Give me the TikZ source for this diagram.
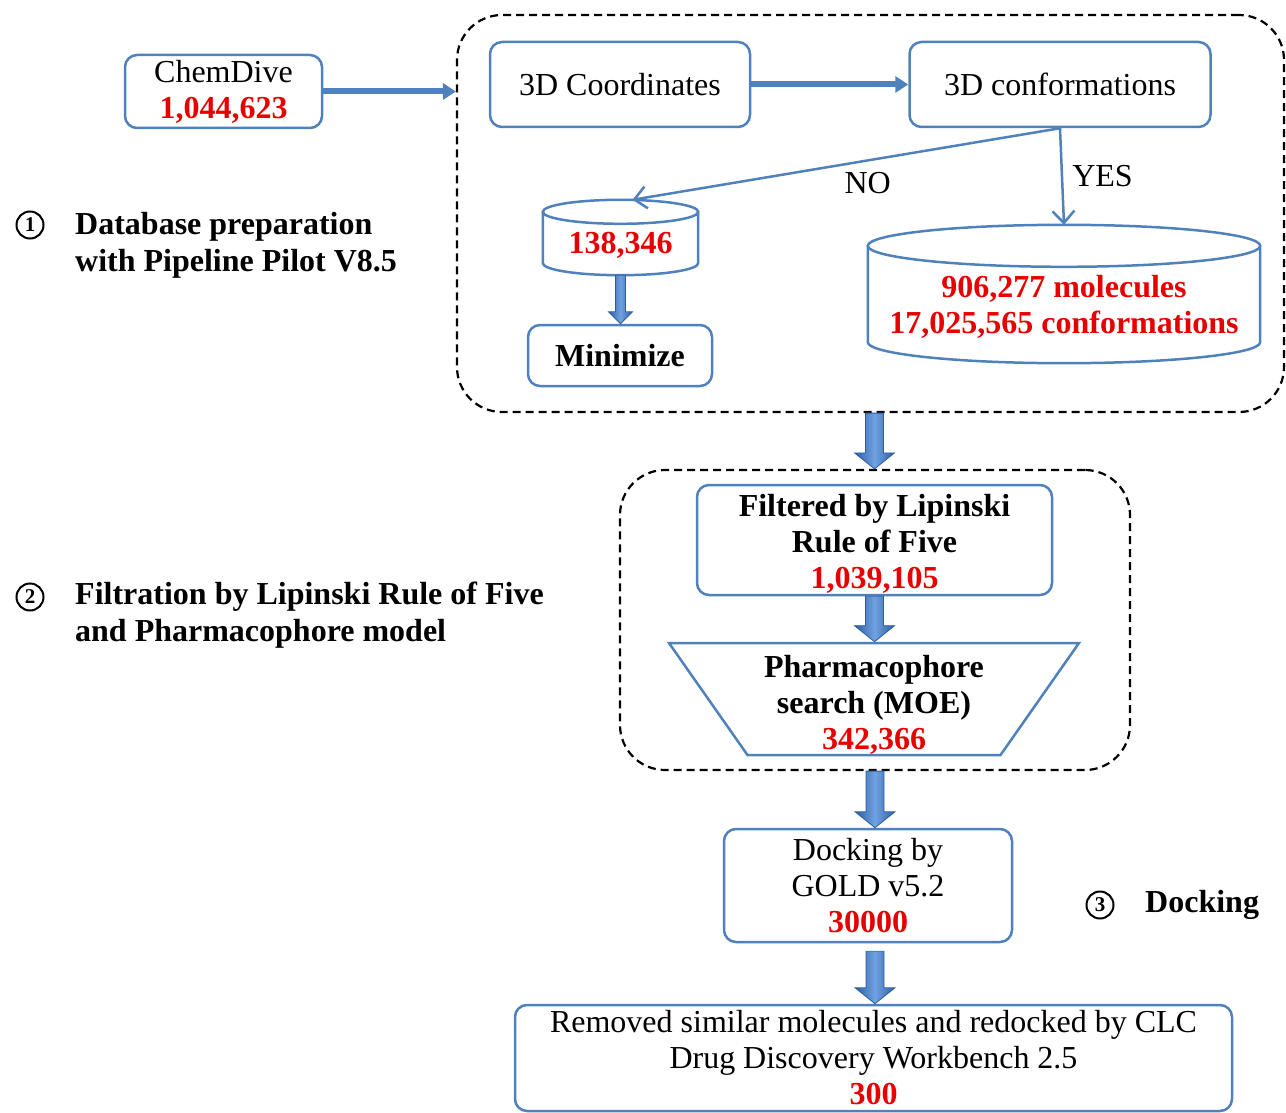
\documentclass[tikz,border=0pt]{standalone}
\usepackage{fontspec}
\setmainfont{Liberation Serif}
\usepackage{tikz}
\usetikzlibrary{positioning,shapes.geometric,arrows.meta,calc}
\definecolor{boxblue}{RGB}{79,129,189}
\definecolor{countred}{RGB}{232,0,0}
\definecolor{arrowdark}{RGB}{46,94,160}
\definecolor{arrowlight}{RGB}{112,162,226}
\newcommand{\redcount}[1]{{\bfseries\color{countred}#1}}
\newcommand{\lowered}[2]{\raisebox{-#1}[\height][\depth]{\begin{tabular}{@{}c@{}}#2\end{tabular}}}
\newcommand{\database}[2]{\draw[draw=boxblue,line width=2.5pt] let \p1=(#1.north west), \p2=(#1.south east), \n1={(\x2-\x1)/2} in
	(\x1+\n1,\y1-#2) ellipse [x radius=\n1, y radius=#2]
	(\x1,\y1-#2) -- (\x1,\y2+#2) arc [start angle=180, end angle=360, x radius=\n1, y radius=#2] -- (\x2,\y1-#2);}
\newcommand{\blockarrow}[5]{\shadedraw[left color=arrowdark,right color=arrowdark,middle color=arrowlight,draw=arrowdark,line width=0.8pt]
	let \p1=(#1), \p2=(#2) in (\x1-#3,\y1) -- (\x1+#3,\y1) -- (\x1+#3,\y2+#5) -- (\x1+#4,\y2+#5) -- (\x1,\y2) -- (\x1-#4,\y2+#5) -- (\x1-#3,\y2+#5) -- cycle;}

\begin{document}
\begin{tikzpicture}[x=1pt,y=-1pt,
	every node/.style={font=\fontsize{32}{36}\selectfont},
	box/.style={draw=boxblue,line width=2.5pt,rounded corners=12pt,align=center,inner sep=0pt},
	boldbox/.style={box,font=\fontsize{32}{36}\selectfont\bfseries},
	dbase/.style={rectangle,inner sep=0pt},
	group/.style={draw=black,line width=2.2pt,dash pattern=on 8pt off 5pt,rounded corners=45pt,inner sep=0pt},
	flow/.style={draw=boxblue,line width=6pt,-{Triangle[length=13pt,width=16pt]}},
	branch/.style={draw=boxblue,line width=2.5pt,-{Straight Barb[length=12pt,width=22pt]}},
	stage/.style={font=\fontsize{32}{37}\selectfont\bfseries,align=left,anchor=west,inner sep=0pt},
	stagenum/.style={circle,draw,line width=2pt,minimum size=27pt,inner sep=0pt,font=\fontsize{21}{21}\selectfont\bfseries}]
	\useasboundingbox (0,0) rectangle (1286,1113);
	\node[box,minimum width=197pt,minimum height=73pt] (chem) at (223.5,91.5) {ChemDive\\\redcount{1,044,623}};
	\node[group,minimum width=827pt,minimum height=397pt] (prep) at (870.5,213.5) {};
	\node[box,minimum width=260pt,minimum height=85pt] (coord) at (620,84.5) {3D Coordinates};
	\node[box,minimum width=301pt,minimum height=85pt,right=157pt of coord] (conf) {3D conformations};
	\node[dbase,minimum width=155pt,minimum height=75pt] (dbmin) at (620.5,237.5) {\lowered{9pt}{\redcount{138,346}}};
	\node[boldbox,minimum width=184pt,minimum height=61pt] (mini) at (620,355.5) {Minimize};
	\node[dbase,minimum width=392pt,minimum height=138pt] (dbconf) at (1064,294) {\lowered{14pt}{\redcount{906,277 molecules}\\\redcount{17,025,565 conformations}}};
	\database{dbmin}{12pt}
	\database{dbconf}{21pt}
	\node[group,minimum width=510pt,minimum height=300pt] (filtgroup) at (875,620) {};
	\node[boldbox,minimum width=355pt,minimum height=110pt] (filt) at (874.5,540) {\lowered{5pt}{Filtered by Lipinski\\Rule of Five\\\redcount{1,039,105}}};
	\node[draw=boxblue,line width=2.5pt,trapezium,shape border rotate=180,trapezium left angle=54,trapezium right angle=54,trapezium stretches body,minimum width=410pt,minimum height=112pt,inner sep=0pt,font=\fontsize{32}{36}\selectfont\bfseries] (pharm) at (874,699) {\lowered{7pt}{Pharmacophore\\search (MOE)\\\redcount{342,366}}};
	\node[box,minimum width=288pt,minimum height=113pt] (dock) at (868,885.5) {Docking by\\GOLD v5.2\\\redcount{30000}};
	\node[box,minimum width=717pt,minimum height=106pt] (final) at (873.5,1058) {Removed similar molecules and redocked by CLC\\Drug Discovery Workbench 2.5\\\redcount{300}};
	\node[stagenum] (num1) at (30,225) {1};
	\node[stage] (stage1) at (75,245) {Database preparation\\with Pipeline Pilot V8.5};
	\node[stagenum] (num2) at (30,597) {2};
	\node[stage] (stage2) at (75,615) {Filtration by Lipinski Rule of Five\\and Pharmacophore model};
	\node[stagenum] (num3) at (1100,905) {3};
	\node[stage] (stage3) at (1145,905) {Docking};
	\draw[flow] (chem.east) -- (chem.east -| prep.west);
	\draw[flow] (coord) -- (conf);
	\draw[branch] (conf.south) -- node[pos=0.45,below,inner sep=11pt]{NO} ([xshift=12pt]dbmin.north);
	\draw[branch] (conf.south) -- node[pos=0.5,right,inner sep=9pt]{YES} (dbconf.north);
	\blockarrow{dbmin.south}{mini.north}{5pt}{12pt}{12pt}
	\blockarrow{[xshift=4pt]prep.south}{[xshift=4pt]prep.south |- filtgroup.north}{9pt}{20pt}{16pt}
	\blockarrow{filt.south}{pharm.north}{9pt}{20pt}{16pt}
	\blockarrow{filtgroup.south}{filtgroup.south |- dock.north}{9pt}{20pt}{16pt}
	\blockarrow{[yshift=-8pt]filtgroup.south |- dock.south}{filtgroup.south |- final.north}{9pt}{20pt}{16pt}
\end{tikzpicture}
\end{document}
